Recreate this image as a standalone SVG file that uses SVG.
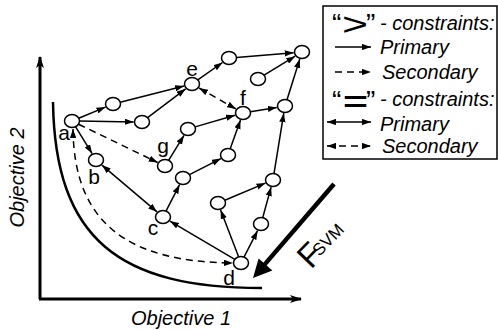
<svg xmlns="http://www.w3.org/2000/svg" width="498" height="330" viewBox="0 0 498 330">
<style>
.nd{fill:#fff;stroke:#000;stroke-width:1.5}
.e{fill:none;stroke:#000;stroke-width:1.5;marker-end:url(#ah)}
.dd{stroke-dasharray:7 5}
.bi{marker-start:url(#ah)}
.lbl{font-family:"Liberation Sans",Arial,sans-serif;font-size:21px;fill:#000;text-anchor:middle}
.it{font-family:"Liberation Sans",Arial,sans-serif;font-style:italic;font-size:20px;fill:#000}
.q{font-family:"Liberation Sans",Arial,sans-serif;fill:#000}
</style>
<defs>
<marker id="ah" viewBox="0 0 10 7" refX="10" refY="3.5" markerWidth="9" markerHeight="6.5" markerUnits="userSpaceOnUse" orient="auto-start-reverse"><path d="M0,0L10,3.5L0,7z"/></marker>
<marker id="ax" viewBox="0 0 12 8" refX="11" refY="4" markerWidth="12" markerHeight="8" markerUnits="userSpaceOnUse" orient="auto"><path d="M0,0L12,4L0,8L3,4z"/></marker>
</defs>
<rect width="498" height="330" fill="#fff"/>
<g id="axes" fill="none" stroke="#000" stroke-width="3">
<path d="M40,299V57" marker-end="url(#ax)"/>
<path d="M39,299H301" marker-end="url(#ax)"/>
</g>
<path id="front" d="M53,102C55,240 120,288 262,288" fill="none" stroke="#000" stroke-width="2.5"/>
<text class="it" transform="translate(24,177.5) rotate(-90)" text-anchor="middle">Objective 2</text>
<text class="it" x="181" y="325" text-anchor="middle">Objective 1</text>
<g id="connectors">
<path class="e" d="M78.7,118.2L105.5,107.1"/>
<path class="e" d="M120.2,102.2L184.1,86"/>
<path class="e" d="M79.5,121.1L133.7,121.9"/>
<path class="e" d="M147.6,117.7L185.7,88.8"/>
<path class="e" d="M197.8,79.9L222.5,62.5"/>
<path class="e" d="M236.5,57.4L293.7,52.7"/>
<path class="e" d="M264.1,75.2L295.2,56.2"/>
<path class="e" d="M287,99.7L299.8,59.1"/>
<path class="e dd bi" d="M199,88L236,109"/>
<path class="e" d="M195.1,126.9L235.1,115.3"/>
<path class="e" d="M250.4,111.8L276.8,107.4"/>
<path class="e" d="M230.2,148.8L240.5,120"/>
<path class="e" d="M168.6,160.3L184,135.4"/>
<path class="e dd" d="M78.5,124.2L157.7,162.5"/>
<path class="e" d="M75.5,126.7L92.1,153.6"/>
<path class="e bi" d="M101.9,165.1L157.1,211.9"/>
<path class="e" d="M234.8,259.3L169.9,221.1"/>
<path class="e" d="M166,211.1L179.6,184.7"/>
<path class="e" d="M189.5,174.7L220.9,158.6"/>
<path class="e" d="M238.6,256.8L220.6,209.9"/>
<path class="e" d="M244,257.1L257.6,230.7"/>
<path class="e" d="M262.7,217.7L271.1,187.1"/>
<path class="e" d="M224.8,200.2L265.5,183.1"/>
<path class="e" d="M274,173.6L283.8,113.2"/>
<path class="e dd bi" d="M73,129C74,225 130,262 233,263"/>
</g>
<g id="a"><ellipse class="nd" cx="72" cy="121" rx="7.5" ry="6.5"/><text class="lbl" x="64" y="140">a</text></g>
<g id="n1"><ellipse class="nd" cx="113" cy="104" rx="7.5" ry="6.5"/></g>
<g id="n2"><ellipse class="nd" cx="142" cy="122" rx="7.5" ry="6.5"/></g>
<g id="e"><ellipse class="nd" cx="192" cy="84" rx="7.5" ry="6.5"/><text class="lbl" x="192" y="76">e</text></g>
<g id="n3"><ellipse class="nd" cx="229" cy="58" rx="7.5" ry="6.5"/></g>
<g id="n4"><ellipse class="nd" cx="302" cy="52" rx="7.5" ry="6.5"/></g>
<g id="n5"><ellipse class="nd" cx="258" cy="79" rx="7.5" ry="6.5"/></g>
<g id="f"><ellipse class="nd" cx="243" cy="113" rx="7.5" ry="6.5"/><text class="lbl" x="243" y="105">f</text></g>
<g id="n6"><ellipse class="nd" cx="285" cy="106" rx="7.5" ry="6.5"/></g>
<g id="n7"><ellipse class="nd" cx="188" cy="129" rx="7.5" ry="6.5"/></g>
<g id="g"><ellipse class="nd" cx="165" cy="166" rx="7.5" ry="6.5"/><text class="lbl" x="163" y="153">g</text></g>
<g id="n8"><ellipse class="nd" cx="228" cy="155" rx="7.5" ry="6.5"/></g>
<g id="b"><ellipse class="nd" cx="96" cy="160" rx="7.5" ry="6.5"/><text class="lbl" x="94" y="184">b</text></g>
<g id="c"><ellipse class="nd" cx="163" cy="217" rx="7.5" ry="6.5"/><text class="lbl" x="153" y="235">c</text></g>
<g id="n9"><ellipse class="nd" cx="183" cy="178" rx="7.5" ry="6.5"/></g>
<g id="d"><ellipse class="nd" cx="241" cy="263" rx="7.5" ry="6.5"/><text class="lbl" x="229" y="285">d</text></g>
<g id="n10"><ellipse class="nd" cx="218" cy="203" rx="7.5" ry="6.5"/></g>
<g id="n11"><ellipse class="nd" cx="273" cy="180" rx="7.5" ry="6.5"/></g>
<g id="n12"><ellipse class="nd" cx="261" cy="224" rx="7.5" ry="6.5"/></g>
<g id="fsvm">
<path d="M334,184L264.5,264.6" stroke="#000" stroke-width="4.5" fill="none"/>
<path d="M253,278L258.6,258.6L272.4,270.6z" fill="#000"/>
<text class="q" transform="translate(311,270) rotate(-46)" font-size="33">F<tspan font-size="17" dx="-5" dy="-3">SVM</tspan></text>
</g>
<g id="legend">
<rect x="323" y="6" width="174" height="153" fill="#fff" stroke="#000" stroke-width="1.5"/>
<text class="q" x="332" y="33" font-size="28">“</text>
<text class="q" x="342" y="35" font-size="32" textLength="26" lengthAdjust="spacingAndGlyphs">&gt;</text>
<text class="q" x="366" y="33" font-size="28">”</text>
<text class="it" x="380" y="30">- constraints:</text>
<path class="e" d="M335,47H371"/>
<text class="it" x="380" y="54">Primary</text>
<path class="e dd" d="M335,72H371"/>
<text class="it" x="382" y="79">Secondary</text>
<text class="q" x="332" y="110" font-size="28">“</text>
<text class="q" x="343" y="111" font-size="28" font-weight="bold" textLength="25" lengthAdjust="spacingAndGlyphs">=</text>
<text class="q" x="366" y="110" font-size="28">”</text>
<text class="it" x="380" y="106">- constraints:</text>
<path class="e bi" d="M327,122H371"/>
<text class="it" x="380" y="131">Primary</text>
<path class="e dd bi" d="M327,146H371"/>
<text class="it" x="382" y="153">Secondary</text>
</g>
</svg>
